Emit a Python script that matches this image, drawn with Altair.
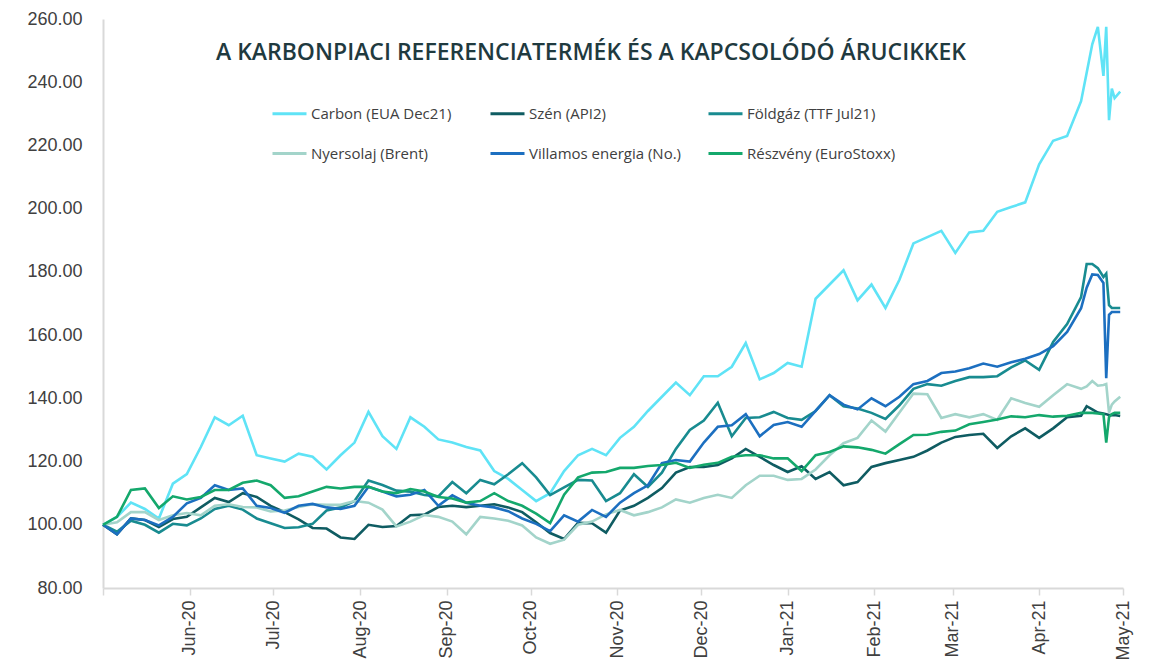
import altair as alt
import pandas as pd

# day offsets from 2020-05-01
day_offsets = [0, 5, 10, 15, 20, 25, 30, 35, 40, 45,
               50, 55, 60, 65, 70, 75, 80, 85, 90, 95,
               100, 105, 110, 115, 120, 125, 130, 135, 140, 145,
               150, 155, 160, 165, 170, 175, 180, 185, 190, 195,
               200, 205, 210, 215, 220, 225, 230, 235, 240, 245,
               250, 255, 260, 265, 270, 275, 280, 285, 290, 295,
               300, 305, 310, 315, 320, 325, 330, 335, 340, 345,
               350, 352, 354, 356, 358, 359, 360, 361, 362, 364]

carbon = [100, 102.5, 107, 105, 102, 113, 116, 124.6, 134, 131.5,
          134.5, 122, 121, 120, 122.5, 121.5, 117.5, 122, 126, 135.7,
          128, 124, 134, 131, 127, 126, 124.6, 123.5, 117, 114.5,
          111, 107.5, 110, 117, 122, 124, 122, 127.5, 131, 136,
          140.5, 145, 141, 147, 147, 150, 157.5, 146, 148, 151.2,
          150, 171.5, 176, 180.5, 171, 176, 168.6, 177.5, 189, 191,
          193, 186, 192.5, 193, 199, 200.5, 202, 214, 221.5, 223,
          234, 243, 252, 257.5, 242, 257.5, 228, 238, 235, 237]

szen = [100, 97, 102, 101.5, 99.3, 101.8, 102.5, 105.5, 108.5, 107.2,
        110, 108.8, 106, 104, 101.7, 99, 98.8, 96, 95.5, 100,
        99.3, 99.6, 103, 103.2, 105.6, 106, 105.6, 106, 106.5, 105.5,
        104, 100.8, 97.4, 95.5, 100.6, 100.5, 97.5, 104.5, 106, 108.5,
        111.6, 116.5, 118.3, 118.3, 118.9, 121, 124, 121.5, 118.9, 116.7,
        118.5, 114.5, 116.7, 112.5, 113.5, 118.3, 119.5, 120.5, 121.5, 123.5,
        126, 127.8, 128.4, 128.8, 124.3, 128, 130.5, 127.5, 130.5, 134,
        134.5, 137.5, 136.5, 135.5, 135.2, 135, 134.7, 134.7, 134.7, 134.4]

foldgaz = [100, 97.8, 101.3, 100, 97.5, 100.3, 99.8, 102, 105, 106,
           104.8, 102, 100.5, 99, 99.2, 100.3, 104.5, 105.5, 107.5, 114,
           112.6, 110.8, 110.5, 109.4, 109, 113.5, 110, 114.2, 112.8, 116,
           119.5, 115, 109.4, 111.8, 114.2, 114, 107.5, 110, 116, 112,
           116.5, 124, 130, 133, 138.6, 128, 133.8, 134, 135.7, 133.8,
           133.2, 136, 141, 137.5, 136.8, 135.4, 133.5, 137.8, 143, 144.5,
           144, 145.5, 146.7, 146.7, 147, 149.8, 152, 149, 157.8, 163.5,
           172, 182.5, 182.5, 181.2, 178.4, 179.5, 169.5, 168.6, 168.6, 168.6]

nyersolaj = [100, 100.8, 104, 104, 101.5, 103, 103.7, 103, 106, 106.5,
             105.6, 105.5, 104.2, 104.5, 105.6, 106.5, 106.3, 106.3, 107.5, 107,
             104.8, 99.5, 101, 103.1, 102.5, 101, 97, 102.5, 102, 101.3,
             99.8, 96, 94, 95.3, 100, 101, 103.3, 104.7, 103, 104,
             105.5, 108, 107, 108.5, 109.5, 108.5, 112.5, 115.5, 115.5, 114.2,
             114.5, 117.5, 122, 125.8, 127.5, 133, 129.5, 135.5, 141.5, 141.3,
             133.8, 135, 134, 135, 133.2, 140, 138.5, 137.3, 141, 144.5,
             143, 143.8, 145.5, 144, 144.2, 144.5, 135.5, 138, 139, 140.5]

villamos = [100, 97, 102, 101.5, 99.8, 102.5, 106.8, 108.5, 112.5, 111,
            111.5, 106, 105.3, 103.8, 106, 106.6, 105.5, 105, 106, 112,
            110.5, 109, 109.5, 111, 106, 109.3, 107, 106, 105.5, 104.3,
            102, 100.3, 98, 103, 101, 104.7, 102.5, 107, 110, 112.5,
            119.5, 120.5, 120, 126, 131, 131.5, 135, 128, 131.6, 132.5,
            131, 136, 141, 138, 136.5, 140, 137.5, 140.5, 144.5, 145.5,
            148, 148.5, 149.5, 151, 150, 151.4, 152.5, 154, 156.5, 161,
            168.5, 175, 179.2, 179, 176.5, 146.4, 166.4, 167.3, 167.3, 167.3]

reszveny = [100, 102.5, 111, 111.5, 105.3, 109, 108, 108.8, 111, 111,
            113.3, 114, 112.5, 108.5, 109, 110.5, 112, 111.5, 112, 112,
            110.5, 110, 111.3, 110.5, 108.8, 108.3, 107, 107.5, 110, 107.5,
            106, 103.5, 100.5, 109.5, 115, 116.5, 116.7, 118, 118, 118.6,
            118.9, 119.6, 118, 119, 119.6, 121.5, 122, 122, 121, 121,
            117, 122, 123, 124.8, 124.5, 123.7, 122.5, 125.5, 128.4, 128.5,
            129.4, 129.8, 131.8, 132.5, 133.3, 134.3, 134, 134.7, 134.2, 134.5,
            135.4, 135.4, 135.4, 135.2, 135, 126, 134.1, 135, 135.4, 135.4]

series_names = ["Carbon (EUA Dec21)", "Szén (API2)", "Földgáz (TTF Jul21)",
                "Nyersolaj (Brent)", "Villamos energia (No.)", "Részvény (EuroStoxx)"]
series_values = [carbon, szen, foldgaz, nyersolaj, villamos, reszveny]
series_colors = ["#5fe3f6", "#0f5c62", "#188b90", "#a3d4ca", "#1c6fc0", "#14a86c"]

title_text = "A KARBONPIACI REFERENCIATERMÉK ÉS A KAPCSOLÓDÓ ÁRUCIKKEK"

start = pd.Timestamp("2020-05-01")
dates = [(start + pd.Timedelta(days=d)).strftime("%Y-%m-%dT00:00:00") for d in day_offsets]

rows = []
for name, vals in zip(series_names, series_values):
    for dt, v in zip(dates, vals):
        rows.append({"date": dt, "value": v, "series": name})
df = pd.DataFrame(rows)

tick_dates = [alt.DateTime(year=2020, month=m, date=1) for m in range(5, 13)] + \
             [alt.DateTime(year=2021, month=m, date=1) for m in range(1, 6)]

lines = alt.Chart(df).mark_line(strokeWidth=2.6).encode(
    x=alt.X("date:T",
            scale=alt.Scale(domain=[alt.DateTime(year=2020, month=5, date=1),
                                    alt.DateTime(year=2021, month=5, date=1)]),
            axis=alt.Axis(values=tick_dates, title=None, labelAngle=-90,
                          labelExpr="datum.value < datetime(2020, 4, 15) ? '' : timeFormat(datum.value, '%b-%y')",
                          labelFont="Liberation Sans", labelFontSize=18, labelColor="#404040",
                          labelPadding=5, tickSize=7, tickWidth=1.5, tickColor="#d9d9d9",
                          domainColor="#d9d9d9", domainWidth=2, grid=False, labelOverlap=False)),
    y=alt.Y("value:Q",
            scale=alt.Scale(domain=[80, 260], nice=False, zero=False),
            axis=alt.Axis(values=list(range(80, 261, 20)), format=".2f", title=None,
                          labelFont="Liberation Sans", labelFontSize=18, labelColor="#404040",
                          labelPadding=21, ticks=False, grid=False,
                          domainColor="#d9d9d9", domainWidth=2)),
    color=alt.Color("series:N",
                    scale=alt.Scale(domain=series_names, range=series_colors),
                    legend=alt.Legend(title=None, orient="none", legendX=168, legendY=76,
                                      direction="horizontal", columns=3,
                                      symbolType="stroke", symbolSize=1156,
                                      symbolStrokeWidth=3, labelFont="Open Sans",
                                      labelFontSize=15, labelColor="#404040",
                                      labelOffset=3, columnPadding=20, rowPadding=13,
                                      gridAlign="all", labelLimit=0)),
)

title_df = pd.DataFrame({"t": [title_text]})
title = alt.Chart(title_df).mark_text(
    font="Open Sans", fontSize=23, fontWeight=600, color="#1f3a3f",
    align="center", baseline="middle"
).encode(text="t:N", x=alt.value(488), y=alt.value(34))

chart = alt.layer(lines, title).properties(
    width=1020, height=569,
    padding={"left": 95, "top": 11, "right": 15, "bottom": 76},
    autosize=alt.AutoSizeParams(type="none"),
).configure_view(stroke=None)

chart.save("out.html", embed_options={"renderer": "svg", "actions": False})
